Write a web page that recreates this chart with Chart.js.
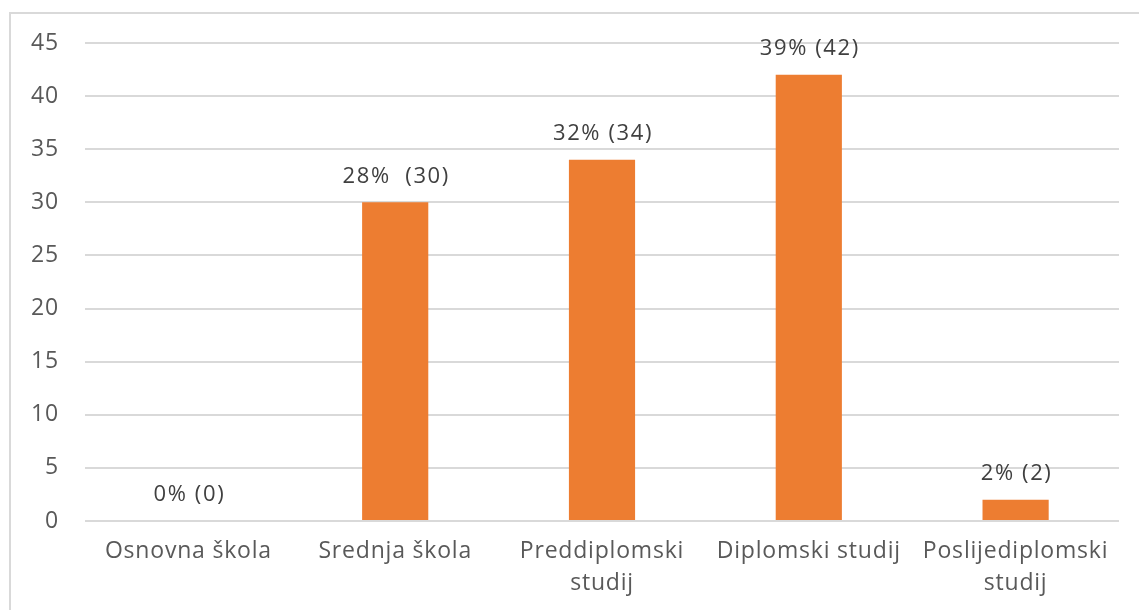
<!DOCTYPE html>
<html>
<head>
<meta charset="utf-8">
<script src="https://cdn.jsdelivr.net/npm/chart.js@4"></script>
<style>
  html, body { margin: 0; padding: 0; background: #fff; overflow: hidden; }
  #wrap { position: relative; width: 1139px; height: 610px; }
  #frame { position: absolute; left: 9px; top: 12px; width: 1200px; height: 700px; border: 2px solid #d9d9d9; box-sizing: border-box; }
  canvas { position: absolute; left: 0; top: 0; }
</style>
</head>
<body>
<div id="wrap">
  <div id="frame"></div>
  <canvas id="c" width="1139" height="610"></canvas>
</div>
<script>
const categories = [["Osnovna škola"], ["Srednja škola"], ["Preddiplomski", "studij"], ["Diplomski studij"], ["Poslijediplomski", "studij"]];
const counts = [0, 30, 34, 42, 2];
const valueLabels = ["0% (0)", "28%  (30)", "32% (34)", "39% (42)", "2% (2)"];
const yTicks = [0, 5, 10, 15, 20, 25, 30, 35, 40, 45];

const FONT = "'Open Sans', 'Noto Sans', sans-serif";
const SP = '0.8px';

const spacingPlugin = {
  id: 'spacing',
  beforeInit(chart) { chart.ctx.letterSpacing = SP; },
  beforeLayout(chart) { chart.ctx.letterSpacing = SP; },
  beforeDraw(chart) { chart.ctx.letterSpacing = SP; }
};

const labelPlugin = {
  id: 'valueLabels',
  afterDatasetsDraw(chart) {
    const ctx = chart.ctx;
    const meta = chart.getDatasetMeta(0);
    ctx.save();
    ctx.letterSpacing = '1.6px';
    ctx.font = "22px " + FONT;
    ctx.fillStyle = '#404040';
    ctx.textAlign = 'center';
    ctx.textBaseline = 'middle';
    meta.data.forEach((bar, i) => {
      ctx.fillText(valueLabels[i], bar.x + 1, bar.y - 26);
    });
    ctx.restore();
  }
};

new Chart(document.getElementById('c'), {
  type: 'bar',
  data: {
    labels: categories,
    datasets: [{
      data: counts,
      backgroundColor: '#ED7D31',
      borderWidth: 0,
      barPercentage: 0.64,
      categoryPercentage: 0.5
    }]
  },
  options: {
    responsive: false,
    animation: false,
    devicePixelRatio: 1,
    layout: { padding: { top: 43, right: 20, left: 0, bottom: 0 } },
    plugins: { legend: { display: false }, tooltip: { enabled: false } },
    scales: {
      x: {
        grid: { display: false, drawTicks: false },
        border: { display: false },
        ticks: {
          color: '#595959',
          font: { family: FONT, size: 23, lineHeight: 1.39 },
          padding: 14,
          maxRotation: 0,
          autoSkip: false
        },
        afterFit(scale) { scale.height = 89; }
      },
      y: {
        min: 0, max: 45,
        afterBuildTicks(scale) { scale.ticks = yTicks.map(v => ({ value: v })); },
        grid: { color: '#d9d9d9', lineWidth: 2, drawTicks: false },
        border: { display: false },
        ticks: {
          color: '#595959',
          font: { family: FONT, size: 23 },
          padding: 26
        },
        afterFit(scale) { scale.width = 85; }
      }
    }
  },
  plugins: [spacingPlugin, labelPlugin]
});
</script>
</body>
</html>
